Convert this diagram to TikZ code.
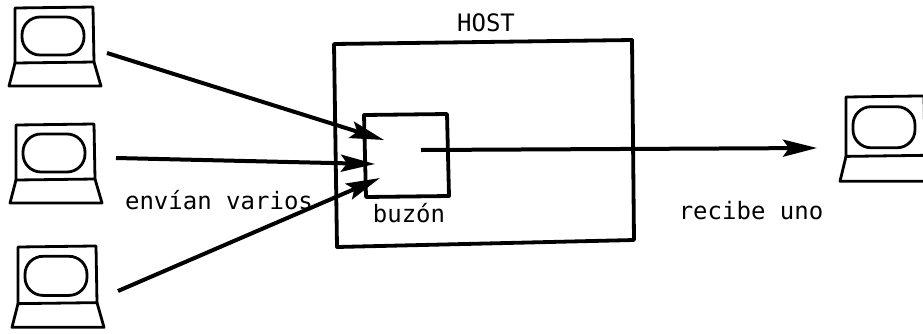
\documentclass[tikz,border=0pt]{standalone}
\usepackage{fontspec}
\setmainfont{DejaVu Sans Mono}
\usetikzlibrary{arrows.meta}
\tikzset{
  thick line/.style={line width=2.8pt,line cap=round,line join=round},
  box line/.style={line width=3.8pt,line join=round},
  flow/.style={line width=4pt,-{Stealth[length=34pt,width=17pt,inset=6pt]}},
  label/.style={font=\fontsize{24}{26}\selectfont,inner sep=0pt,anchor=base},
  pics/laptop/.style={code={
    \draw[thick line] (0,0) -- (78,-1) -- (79,54) -- (0,55) -- cycle;
    \draw[thick line] (0,55) -- (-6,78) -- (86,78) -- (79,54);
    \draw[thick line,rounded corners=18pt] (7,9) rectangle (69,47);
  }}
}
\begin{document}
\begin{tikzpicture}[x=1pt,y=-1pt]
\useasboundingbox (0,0) rectangle (923,333);
\clip (0,0) rectangle (923,333);
% terminals
\pic at (15,8) {laptop};
\pic at (16,125) {laptop};
\pic[yscale=1.03] at (18,247) {laptop};
\pic[yscale=1.08] at (846,97) {laptop};
% host and mailbox
\coordinate (h1) at (334,44);\coordinate (h2) at (632,40);\coordinate (h3) at (634,240);\coordinate (h4) at (337,247);
\draw[box line] (h1) -- (h2) -- (h3) -- (h4) -- cycle;
\coordinate (b1) at (364,115);\coordinate (b2) at (447,114);\coordinate (b3) at (449,196);\coordinate (b4) at (366,197);
\draw[box line] (b1) -- (b2) -- (b3) -- (b4) -- cycle;
% connector ends
\coordinate (s1) at (107,53);\coordinate (e1) at (384,140);
\coordinate (s2) at (116,158);\coordinate (e2) at (375,164);
\coordinate (s3) at (118,291);\coordinate (e3) at (380,178);
\coordinate (s4) at (421,150);\coordinate (e4) at (817,148);
\draw[flow] (s1) -- (e1);
\draw[flow] (s2) -- (e2);
\draw[flow] (s3) -- (e3);
\draw[flow] (s4) -- (e4);
% labels
\node[label] (host) at (486,31) {HOST};
\node[label] (env) at (219,209) {envían varios};
\node[label] (buz) at (409,222) {buzón};
\node[label] (rec) at (751,219) {recibe uno};
\end{tikzpicture}
\end{document}
